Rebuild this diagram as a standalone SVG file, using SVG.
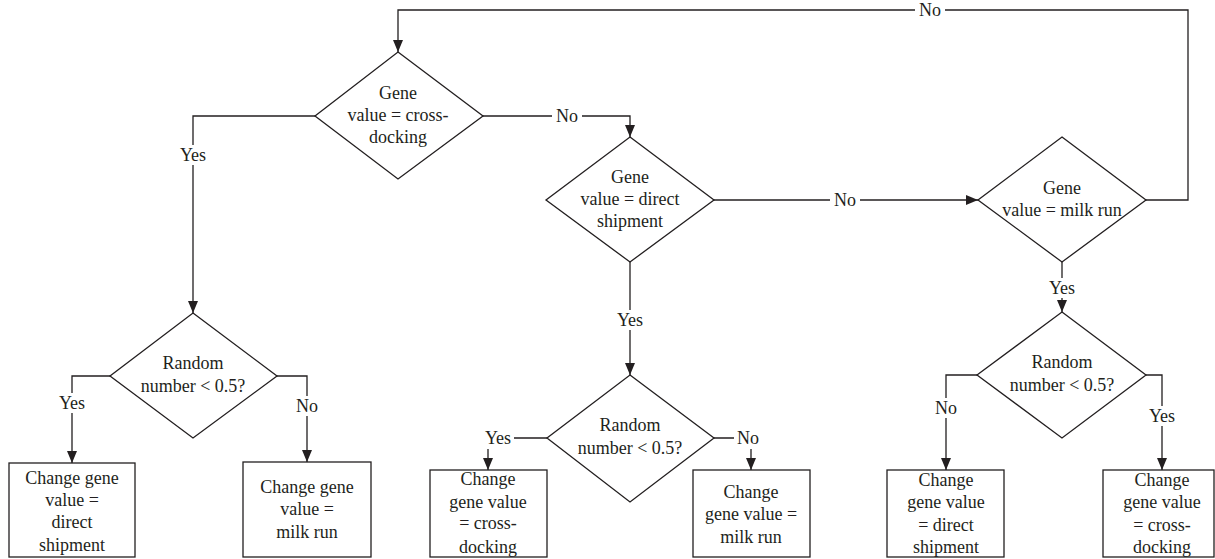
<svg xmlns="http://www.w3.org/2000/svg" width="1215" height="559" viewBox="0 0 1215 559">
<style>
.shape{fill:#fff;stroke:#231f20;stroke-width:1.3}
.conn{fill:none;stroke:#231f20;stroke-width:1.3}
text{font-family:"Liberation Serif","Times New Roman",serif;font-size:18px;fill:#231f20;text-anchor:middle}
.lbl{fill:#fff;stroke:none}
</style>
<defs>
<marker id="arr" markerUnits="userSpaceOnUse" markerWidth="12" markerHeight="10" refX="12" refY="5" orient="auto">
<path d="M0,0 L12,5 L0,10 z" fill="#231f20"/>
</marker>
</defs>
<rect width="1215" height="559" fill="#fff"/>
<g id="connectors">
<path class="conn" d="M1146,200 H1188 V10 H398 V52" marker-end="url(#arr)"/>
<path class="conn" d="M483,116 H630 V137" marker-end="url(#arr)"/>
<path class="conn" d="M714,200 H978" marker-end="url(#arr)"/>
<path class="conn" d="M315,116 H193 V313" marker-end="url(#arr)"/>
<path class="conn" d="M630,262 V375" marker-end="url(#arr)"/>
<path class="conn" d="M1062,262 V312" marker-end="url(#arr)"/>
<path class="conn" d="M110,376 H72 V463" marker-end="url(#arr)"/>
<path class="conn" d="M277,376 H307 V462" marker-end="url(#arr)"/>
<path class="conn" d="M547,438 H488 V470" marker-end="url(#arr)"/>
<path class="conn" d="M714,438 H751 V470" marker-end="url(#arr)"/>
<path class="conn" d="M977,375 H946 V470" marker-end="url(#arr)"/>
<path class="conn" d="M1146,375 H1162 V470" marker-end="url(#arr)"/>
<g id="labels">
<rect class="lbl" x="915" y="1" width="30" height="18"/><text x="930" y="16">No</text>
<rect class="lbl" x="552" y="107" width="30" height="18"/><text x="567" y="122">No</text>
<rect class="lbl" x="830" y="191" width="30" height="18"/><text x="845" y="206">No</text>
<rect class="lbl" x="178" y="145" width="30" height="20"/><text x="193" y="161">Yes</text>
<rect class="lbl" x="615" y="310" width="30" height="20"/><text x="630" y="326">Yes</text>
<rect class="lbl" x="1047" y="278" width="30" height="20"/><text x="1062" y="294">Yes</text>
<rect class="lbl" x="57" y="393" width="30" height="20"/><text x="72" y="409">Yes</text>
<rect class="lbl" x="293" y="396" width="28" height="20"/><text x="307" y="412">No</text>
<rect class="lbl" x="932" y="398" width="28" height="20"/><text x="946" y="414">No</text>
<rect class="lbl" x="1147" y="406" width="30" height="20"/><text x="1162" y="422">Yes</text>
<rect class="lbl" x="482" y="428" width="32" height="21"/><text x="498" y="444">Yes</text>
<rect class="lbl" x="734" y="428" width="28" height="21"/><text x="748" y="444">No</text>
</g>
</g>
<g id="d1">
<polygon class="shape" points="398,52 483,116 398,179 315,116"/>
<text x="398" y="99">Gene</text><text x="398" y="121">value = cross-</text><text x="398" y="143">docking</text>
</g>
<g id="d2">
<polygon class="shape" points="630,137 714,200 630,262 546,200"/>
<text x="630" y="183">Gene</text><text x="630" y="205">value = direct</text><text x="630" y="227">shipment</text>
</g>
<g id="d3">
<polygon class="shape" points="1062,137 1146,200 1062,262 978,200"/>
<text x="1062" y="194">Gene</text><text x="1062" y="216">value = milk run</text>
</g>
<g id="d4">
<polygon class="shape" points="193,313 277,376 193,438 110,376"/>
<text x="193" y="369">Random</text><text x="193" y="392">number &lt; 0.5?</text>
</g>
<g id="d5">
<polygon class="shape" points="630,375 714,438 630,502 547,438"/>
<text x="630" y="431">Random</text><text x="630" y="454">number &lt; 0.5?</text>
</g>
<g id="d6">
<polygon class="shape" points="1062,312 1146,375 1062,438 977,375"/>
<text x="1062" y="368">Random</text><text x="1062" y="391">number &lt; 0.5?</text>
</g>
<g id="b1">
<rect class="shape" x="9" y="463" width="126" height="94"/>
<text x="72" y="484">Change gene</text><text x="72" y="506">value =</text><text x="72" y="528">direct</text><text x="72" y="551">shipment</text>
</g>
<g id="b2">
<rect class="shape" x="243" y="462" width="128" height="95"/>
<text x="307" y="493">Change gene</text><text x="307" y="515">value =</text><text x="307" y="538">milk run</text>
</g>
<g id="b3">
<rect class="shape" x="430" y="470" width="117" height="87"/>
<text x="488" y="485">Change</text><text x="488" y="508">gene value</text><text x="488" y="529">= cross-</text><text x="488" y="553">docking</text>
</g>
<g id="b4">
<rect class="shape" x="693" y="470" width="117" height="87"/>
<text x="751" y="498">Change</text><text x="751" y="520">gene value =</text><text x="751" y="543">milk run</text>
</g>
<g id="b5">
<rect class="shape" x="887" y="470" width="117" height="87"/>
<text x="946" y="486">Change</text><text x="946" y="508">gene value</text><text x="946" y="531">= direct</text><text x="946" y="553">shipment</text>
</g>
<g id="b6">
<rect class="shape" x="1103" y="470" width="111" height="87"/>
<text x="1162" y="486">Change</text><text x="1162" y="508">gene value</text><text x="1162" y="531">= cross-</text><text x="1162" y="553">docking</text>
</g>
</svg>
